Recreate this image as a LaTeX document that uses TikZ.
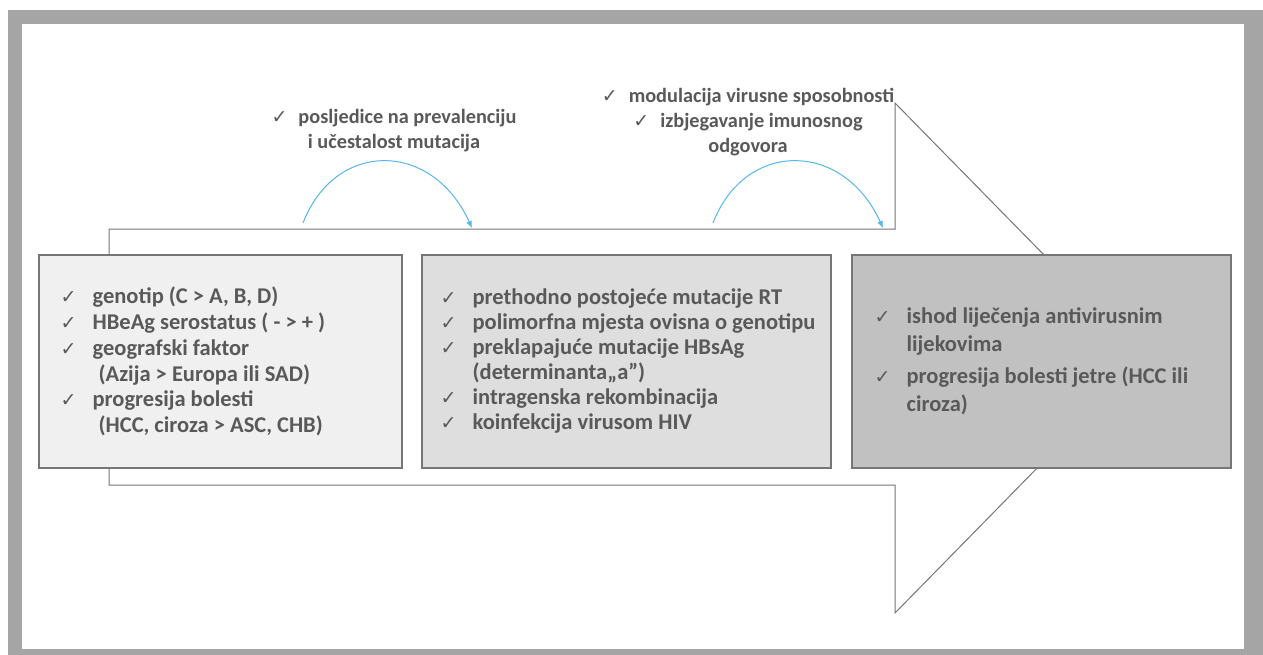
\documentclass[tikz,border=0pt]{standalone}
\usepackage{fontspec}
\setmainfont{Carlito}
\newfontfamily\chkfont{DejaVu Sans}
\usepackage{tikz}
\usetikzlibrary{arrows.meta,positioning}
\tikzset{>={Latex[width=6pt,length=7pt]}}

\definecolor{framegray}{RGB}{165,165,165}
\definecolor{edgegray}{RGB}{118,118,118}
\definecolor{txtgray}{RGB}{89,89,89}
\definecolor{boxA}{RGB}{239,240,239}
\definecolor{boxB}{RGB}{221,222,221}
\definecolor{boxC}{RGB}{192,193,192}
\definecolor{arcblue}{RGB}{86,183,236}

\newcommand\chk{\llap{{\chkfont\fontsize{19}{19}\selectfont ✓}\hspace{16pt}}}
\newcommand\chkin{{\chkfont\fontsize{19}{19}\selectfont ✓}\hspace{11pt}}

\tikzset{
  factbox/.style={draw=edgegray, line width=1.1pt, inner sep=0pt, minimum height=213pt},
  facttext/.style={align=left, inner sep=0pt, text=txtgray, font=\fontsize{22.5}{25.8}\selectfont\bfseries},
  toptext/.style={align=center, inner sep=0pt, text=txtgray, font=\fontsize{20.3}{25}\selectfont\bfseries},
  bendarrow/.style={->, draw=arcblue, line width=1pt},
}

\begin{document}
\begin{tikzpicture}[x=1pt, y=-1pt]

  \useasboundingbox (0,0) rectangle (1263,655);

  %% frame
  \fill[framegray] (8,10) rectangle (1263,655);
  \fill[white] (22,24) rectangle (1244,649);

  %% big arrow behind the boxes
  \draw[edgegray, line width=1pt, fill=white]
    (109,229) -- (895,229) -- (895,103) -- (1145,358)
    -- (895,613) -- (895,485) -- (109,485) -- cycle;

  %% boxes
  \node[factbox, fill=boxA, minimum width=363pt] (factors)   at (220.5,361.5) {};
  \node[factbox, fill=boxB, minimum width=409pt] (mutations) at (626.5,361.5) {};
  \node[factbox, fill=boxC, minimum width=379pt] (outcome)   at (1041.5,361.5) {};

  \node[facttext, right=54pt of factors.west] (factorslist) {%
    \chk genotip (C > A, B, D)\\
    \chk HBeAg serostatus ( - > + )\\
    \chk geografski faktor\\
    \hspace*{6pt}(Azija > Europa ili SAD)\\
    \chk progresija bolesti\\
    \hspace*{6pt}(HCC, ciroza > ASC, CHB)};

  \node[facttext, font=\fontsize{22.5}{25}\selectfont\bfseries, right=51pt of mutations.west] (mutationslist) {%
    \chk prethodno postojeće mutacije RT\\
    \chk polimorfna mjesta ovisna o genotipu\\
    \chk preklapajuće mutacije HBsAg\\
    (determinanta„a”)\\
    \chk intragenska rekombinacija\\
    \chk koinfekcija virusom HIV};

  \node[facttext, font=\fontsize{22.5}{28}\selectfont\bfseries, right=55pt of outcome.west] (outcomelist) {%
    \chk ishod liječenja antivirusnim\\
    lijekovima\\[4pt]
    \chk progresija bolesti jetre (HCC ili\\
    ciroza)};

  %% labels over the arrow
  \node[toptext] (prevalence) at (394,131) {%
    \chkin posljedice na prevalenciju\\
    i učestalost mutacija};
  \node[toptext] (escape) at (748,122) {%
    \chkin modulacija virusne sposobnosti\\
    \chkin izbjegavanje imunosnog\\
    odgovora};

  %% blue bends
  \coordinate (bendAfrom) at (303,223);
  \coordinate (bendAto)   at (472,228);
  \coordinate (bendBfrom) at (713,223);
  \coordinate (bendBto)   at (883,228);
  \draw[bendarrow] (bendAfrom) .. controls (335,140) and (432,140) .. (bendAto);
  \draw[bendarrow] (bendBfrom) .. controls (745,140) and (843,140) .. (bendBto);

\end{tikzpicture}
\end{document}
